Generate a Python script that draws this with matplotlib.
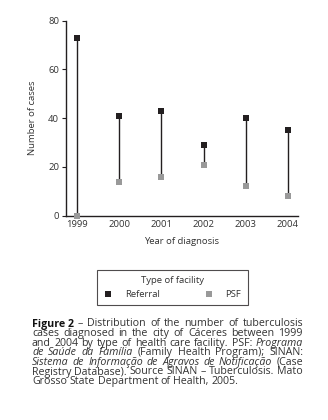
import matplotlib
matplotlib.use("Agg")
import matplotlib.pyplot as plt
from matplotlib.lines import Line2D

plt.rcParams['font.family'] = ['Open Sans', 'DejaVu Sans']

years = [1999, 2000, 2001, 2002, 2003, 2004]
referral = [73, 41, 43, 29, 40, 35]
psf = [0, 14, 16, 21, 12, 8]
yticks = [0, 20, 40, 60, 80]

black = '#231f20'
grey = '#999999'
txt = '#333333'

fig = plt.figure(figsize=(3.28, 4.20), dpi=100)
ax = fig.add_axes([66 / 328, 1 - 215.7 / 420, 232 / 328, 195 / 420])

# vertical connector between the two series for each year
for x, r, p in zip(years, referral, psf):
    ax.plot([x, x], [p, r], color=black, lw=1.0, zorder=1)
ax.plot(years, referral, 's', color=black, ms=4.6, mew=0, zorder=3, clip_on=False)
ax.plot(years, psf, 's', color=grey, ms=4.6, mew=0, zorder=3, clip_on=False)

ax.set_xlim(1998.74, 2004.24)
ax.set_ylim(0, 80)
ax.set_xticks(years)
ax.set_xticklabels([str(y) for y in years])
ax.set_yticks(yticks)
ax.tick_params(axis='x', length=0, pad=3, labelsize=6.8, colors=txt)
ax.tick_params(axis='y', length=3, width=0.8, pad=2, labelsize=6.8, colors=txt)
ax.tick_params(axis='both', color=black)
for s in ['top', 'right']:
    ax.spines[s].set_visible(False)
for s in ['left', 'bottom']:
    ax.spines[s].set_linewidth(1.0)
    ax.spines[s].set_color(black)
ax.set_xlabel('Year of diagnosis', fontsize=6.8, color=txt, labelpad=6)
ax.set_ylabel('Number of cases', fontsize=6.8, color=txt, labelpad=8)

# legend box
handles = [
    Line2D([], [], marker='s', ls='', color=black, ms=4, mew=0),
    Line2D([], [], marker='s', ls='', color=grey, ms=4, mew=0),
]
leg = fig.legend(handles, ['Referral', 'PSF'], title='Type of facility',
                 ncol=2, loc='center', bbox_to_anchor=(172.5 / 328, 1 - 287.5 / 420),
                 fontsize=6.8, title_fontsize=6.8, frameon=True, fancybox=False,
                 edgecolor=black, handlelength=1.0, handletextpad=1.3,
                 columnspacing=4.6, borderpad=0.7, labelspacing=0.5)
leg.get_frame().set_linewidth(0.8)
for t in leg.get_texts():
    t.set_color(txt)
leg.get_title().set_color(txt)

# caption, justified line by line
caption = [
    [("Figure 2", "bold"), ("\u2013 Distribution of the number of tuberculosis", "normal")],
    [("cases diagnosed in the city of C\u00e1ceres between 1999", "normal")],
    [("and 2004 by type of health care facility. PSF:", "normal"), ("Programa", "italic")],
    [("de Sa\u00fade da Fam\u00edlia", "italic"), ("(Family Health Program); SINAN:", "normal")],
    [("Sistema de Informa\u00e7\u00e3o de Agravos de Notifica\u00e7\u00e3o", "italic"), ("(Case", "normal")],
    [("Registry Database). Source SINAN \u2013 Tuberculosis. Mato", "normal")],
    [("Grosso State Department of Health, 2005.", "normal")],
]
x0, x1 = 32, 303
y_first = 324
step = 9.6
fs = 7.7

fig.canvas.draw()
renderer = fig.canvas.get_renderer()


def make(word, style, y):
    kw = dict(fontsize=fs, color=txt, va='center', ha='left')
    if style == 'bold':
        kw['fontweight'] = 'bold'
        kw['color'] = '#111111'
    elif style == 'italic':
        kw['fontstyle'] = 'italic'
    return fig.text(0, 1 - y / 420, word, **kw)


for i, line in enumerate(caption):
    y = y_first + i * step
    words = []
    for seg, style in line:
        if style == 'bold':
            words.append((seg, style))
        else:
            words.extend((p, style) for p in seg.split(' ') if p)
    objs = [make(w, s, y) for w, s in words]
    widths = [o.get_window_extent(renderer).width for o in objs]
    total = sum(widths)
    last = i == len(caption) - 1
    space = 2.6 if last else (x1 - x0 - total) / max(len(words) - 1, 1)
    x = x0
    for o, w in zip(objs, widths):
        o.set_x(x / 328)
        x += w + space

fig.savefig('out.png', dpi=100)
